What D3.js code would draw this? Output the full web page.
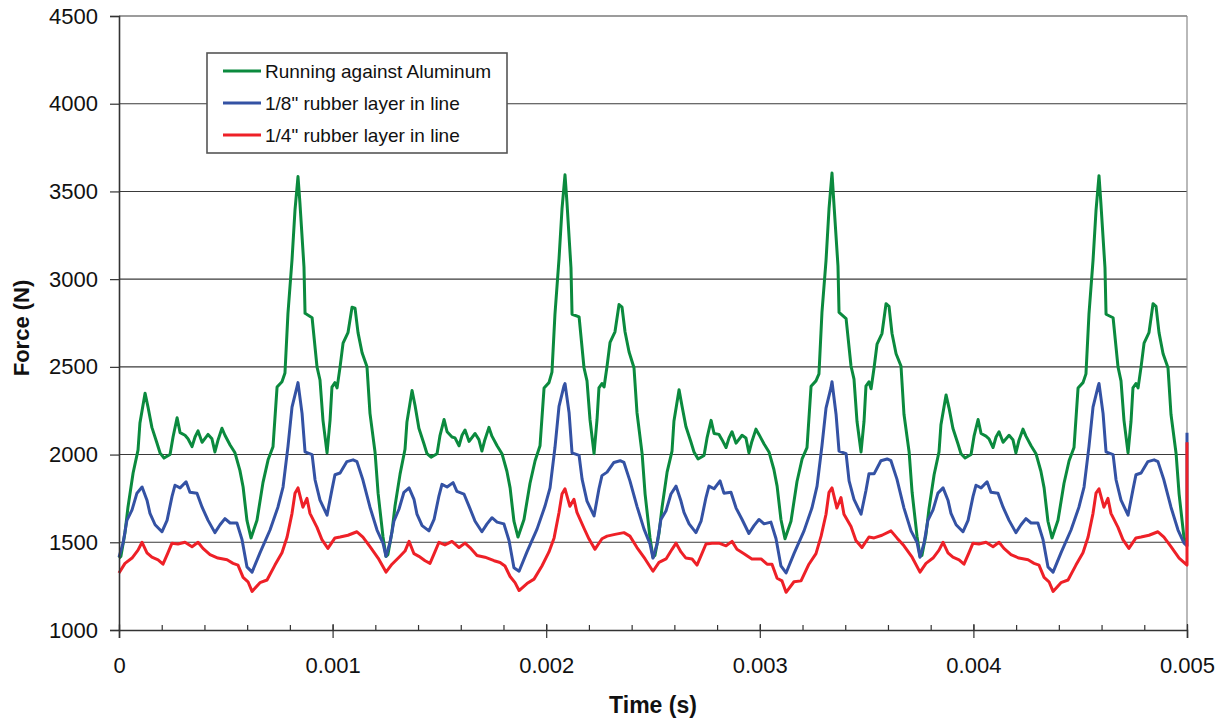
<!DOCTYPE html>
<html>
<head>
<meta charset="utf-8">
<script src="https://cdn.jsdelivr.net/npm/d3@7"></script>
<style>
  body { margin: 0; background: #fff; }
  svg { font-family: Arial, "Liberation Sans", sans-serif; }
</style>
</head>
<body>
<script>
// four repeating cycles, times inside a cycle are in ms from the cycle start
const cycleStarts = [0, 0.00125, 0.0025, 0.00375];
const seriesNames = ["Running against Aluminum", "1/8\" rubber layer in line", "1/4\" rubber layer in line"];
const seriesColors = ["#0b8a3e", "#3452a4", "#ee2027"];

const alumTime = [0, 0.009, 0.028, 0.042, 0.066, 0.089, 0.098, 0.122, 0.136, 0.154, 0.178, 0.192, 0.211, 0.239, 0.253, 0.272, 0.286, 0.309, 0.323, 0.342, 0.356, 0.370, 0.389, 0.417, 0.435, 0.449, 0.463, 0.482, 0.496, 0.520, 0.543, 0.566, 0.581, 0.599, 0.618, 0.646, 0.674, 0.698, 0.721, 0.740, 0.763, 0.777, 0.791, 0.810, 0.824, 0.838, 0.847, 0.866, 0.871, 0.904, 0.927, 0.941, 0.955, 0.974, 0.988, 0.997, 1.011, 1.021, 1.035, 1.049, 1.072, 1.091, 1.105, 1.119, 1.138, 1.161, 1.175, 1.199, 1.213, 1.236];
const alumForce = [
  [1410, 1420, 1555, 1700, 1895, 2025, 2180, 2350, 2270, 2155, 2065, 2010, 1980, 2000, 2100, 2210, 2125, 2110, 2090, 2045, 2100, 2135, 2070, 2115, 2090, 2015, 2080, 2150, 2110, 2055, 2010, 1910, 1815, 1625, 1525, 1625, 1840, 1970, 2045, 2385, 2415, 2465, 2805, 3110, 3395, 3585, 3435, 3070, 2805, 2780, 2500, 2425, 2195, 2010, 2195, 2385, 2410, 2380, 2500, 2635, 2695, 2840, 2835, 2695, 2580, 2500, 2235, 2010, 1780, 1530],
  [1420, 1430, 1560, 1705, 1890, 2030, 2185, 2365, 2280, 2150, 2060, 2005, 1985, 2005, 2110, 2200, 2130, 2100, 2095, 2050, 2110, 2140, 2075, 2120, 2085, 2020, 2085, 2155, 2105, 2050, 2005, 1905, 1810, 1620, 1530, 1630, 1835, 1965, 2050, 2380, 2410, 2470, 2800, 3115, 3400, 3595, 3440, 3065, 2800, 2785, 2495, 2420, 2200, 2005, 2200, 2380, 2405, 2385, 2505, 2640, 2700, 2855, 2840, 2700, 2585, 2495, 2240, 2005, 1775, 1525],
  [1415, 1425, 1550, 1695, 1900, 2020, 2190, 2370, 2275, 2160, 2070, 2015, 1975, 1995, 2095, 2195, 2120, 2115, 2085, 2040, 2095, 2130, 2065, 2110, 2095, 2010, 2075, 2145, 2115, 2060, 2015, 1915, 1820, 1630, 1520, 1620, 1845, 1975, 2040, 2390, 2420, 2460, 2810, 3105, 3400, 3605, 3430, 3075, 2810, 2775, 2505, 2430, 2190, 2015, 2190, 2390, 2415, 2375, 2495, 2630, 2690, 2860, 2845, 2690, 2575, 2505, 2230, 2015, 1785, 1535],
  [1420, 1425, 1545, 1690, 1885, 2015, 2170, 2340, 2265, 2150, 2060, 2005, 1980, 2000, 2105, 2200, 2120, 2105, 2090, 2040, 2100, 2130, 2070, 2110, 2085, 2010, 2080, 2145, 2105, 2050, 2005, 1905, 1810, 1620, 1525, 1625, 1835, 1965, 2040, 2380, 2410, 2460, 2800, 3105, 3390, 3590, 3430, 3065, 2800, 2780, 2500, 2420, 2195, 2010, 2190, 2380, 2405, 2380, 2500, 2635, 2695, 2860, 2845, 2695, 2575, 2495, 2230, 2005, 1775, 1525]
];
const alumTail = [1500];

const rubber8Time = [0, 0.019, 0.037, 0.061, 0.084, 0.108, 0.131, 0.145, 0.169, 0.201, 0.225, 0.248, 0.262, 0.286, 0.314, 0.332, 0.365, 0.389, 0.417, 0.449, 0.473, 0.496, 0.520, 0.552, 0.576, 0.599, 0.623, 0.660, 0.707, 0.744, 0.768, 0.791, 0.810, 0.833, 0.838, 0.857, 0.871, 0.904, 0.918, 0.941, 0.974, 0.997, 1.011, 1.035, 1.067, 1.096, 1.114, 1.142, 1.175, 1.208, 1.236];
const rubber8Force = [
  [1415, 1495, 1625, 1685, 1780, 1815, 1740, 1665, 1600, 1560, 1625, 1760, 1825, 1810, 1845, 1785, 1780, 1700, 1625, 1555, 1600, 1635, 1610, 1610, 1515, 1360, 1330, 1440, 1570, 1700, 1815, 2045, 2270, 2385, 2410, 2235, 2015, 2000, 1855, 1740, 1655, 1800, 1885, 1895, 1960, 1970, 1960, 1855, 1700, 1570, 1495],
  [1420, 1500, 1620, 1690, 1785, 1810, 1745, 1660, 1595, 1565, 1630, 1765, 1830, 1815, 1840, 1790, 1775, 1705, 1620, 1560, 1605, 1640, 1615, 1605, 1510, 1355, 1335, 1445, 1575, 1705, 1810, 2040, 2275, 2390, 2405, 2240, 2010, 1995, 1860, 1735, 1650, 1805, 1880, 1900, 1955, 1965, 1955, 1850, 1705, 1575, 1490],
  [1410, 1490, 1630, 1680, 1775, 1820, 1735, 1670, 1605, 1555, 1620, 1755, 1820, 1805, 1850, 1780, 1785, 1695, 1630, 1550, 1595, 1630, 1605, 1615, 1520, 1365, 1325, 1435, 1565, 1695, 1820, 2050, 2265, 2380, 2415, 2230, 2020, 2005, 1850, 1745, 1660, 1795, 1890, 1890, 1965, 1975, 1965, 1860, 1695, 1565, 1500],
  [1415, 1495, 1625, 1685, 1780, 1810, 1740, 1665, 1600, 1560, 1625, 1760, 1825, 1810, 1845, 1785, 1780, 1700, 1625, 1555, 1600, 1635, 1610, 1610, 1515, 1360, 1330, 1440, 1570, 1700, 1815, 2045, 2270, 2385, 2405, 2235, 2015, 2000, 1855, 1740, 1655, 1800, 1885, 1895, 1960, 1970, 1960, 1855, 1700, 1570, 1495]
];
const rubber8Tail = [1480, 2125];

const rubber4Time = [0, 0.028, 0.061, 0.089, 0.108, 0.131, 0.154, 0.183, 0.206, 0.229, 0.248, 0.276, 0.309, 0.342, 0.370, 0.393, 0.426, 0.463, 0.506, 0.534, 0.557, 0.581, 0.604, 0.623, 0.660, 0.693, 0.730, 0.763, 0.787, 0.810, 0.824, 0.838, 0.861, 0.880, 0.894, 0.927, 0.950, 0.978, 1.011, 1.035, 1.072, 1.114, 1.142, 1.175, 1.213];
const rubber4Force = [
  [1325, 1380, 1410, 1455, 1500, 1440, 1415, 1400, 1375, 1440, 1495, 1490, 1500, 1475, 1500, 1465, 1430, 1410, 1400, 1380, 1370, 1300, 1275, 1220, 1270, 1285, 1370, 1440, 1530, 1665, 1780, 1810, 1700, 1750, 1665, 1585, 1515, 1465, 1525, 1530, 1540, 1560, 1530, 1475, 1410],
  [1330, 1375, 1415, 1450, 1505, 1435, 1420, 1395, 1380, 1445, 1500, 1485, 1505, 1470, 1495, 1470, 1425, 1415, 1395, 1385, 1365, 1305, 1270, 1225, 1265, 1290, 1365, 1445, 1525, 1670, 1775, 1805, 1705, 1745, 1670, 1580, 1520, 1460, 1520, 1535, 1545, 1555, 1535, 1470, 1405],
  [1335, 1385, 1405, 1460, 1495, 1445, 1410, 1405, 1370, 1435, 1490, 1495, 1495, 1480, 1505, 1460, 1435, 1405, 1405, 1375, 1375, 1295, 1280, 1215, 1275, 1280, 1375, 1435, 1535, 1660, 1785, 1810, 1695, 1755, 1660, 1590, 1510, 1470, 1530, 1525, 1540, 1565, 1525, 1480, 1415],
  [1330, 1380, 1410, 1455, 1500, 1440, 1415, 1400, 1375, 1440, 1495, 1490, 1500, 1475, 1500, 1465, 1430, 1410, 1400, 1380, 1370, 1300, 1275, 1220, 1270, 1285, 1370, 1440, 1530, 1665, 1780, 1805, 1700, 1750, 1665, 1585, 1515, 1465, 1525, 1530, 1540, 1560, 1530, 1475, 1410]
];
const rubber4Tail = [1370, 2070];

const yTicks = [1000, 1500, 2000, 2500, 3000, 3500, 4000, 4500];
const xTicks = [0, 0.001, 0.002, 0.003, 0.004, 0.005];
const xMinorTicks = d3.range(0, 0.00501, 0.0002);

function buildSeries(times, forces, tail) {
    const pts = [];
    forces.forEach((row, k) => {
        row.forEach((f, i) => pts.push({t: cycleStarts[k] + times[i] / 1000, f: f}));
    });
    tail.forEach(f => pts.push({t: 0.005, f: f}));
    return pts;
}

const series = [
    buildSeries(alumTime, alumForce, alumTail),
    buildSeries(rubber8Time, rubber8Force, rubber8Tail),
    buildSeries(rubber4Time, rubber4Force, rubber4Tail)
];

const W = 1226, H = 719;
const margin = {top: 16, right: 39, bottom: 89, left: 119};
const width = W - margin.left - margin.right, height = H - margin.top - margin.bottom;

const svg = d3.select('body').append('svg')
    .attr('width', W)
    .attr('height', H);

const g = svg.append('g')
    .attr('transform', `translate(${margin.left}, ${margin.top})`);

const x = d3.scaleLinear().domain([0, 0.005]).range([0, width]);
const y = d3.scaleLinear().domain([1000, 4500]).range([height, 0]);

// gridlines
g.append('g')
    .selectAll('line')
    .data(yTicks.slice(1))
    .enter()
    .append('line')
    .attr('x1', 0)
    .attr('x2', width)
    .attr('y1', d => y(d))
    .attr('y2', d => y(d))
    .attr('stroke', '#3a3a3a')
    .attr('stroke-width', 1.1);

// right border
g.append('line')
    .attr('x1', width).attr('x2', width)
    .attr('y1', 0).attr('y2', height)
    .attr('stroke', '#8a8a8a')
    .attr('stroke-width', 1.2);

// lines
const line = d3.line().x(d => x(d.t)).y(d => y(d.f));
g.selectAll('path.series')
    .data(series)
    .enter()
    .append('path')
    .attr('class', 'series')
    .attr('d', line)
    .attr('fill', 'none')
    .attr('stroke', (d, i) => seriesColors[i])
    .attr('stroke-width', 3)
    .attr('stroke-linejoin', 'round');

// y axis
const yAxis = g.append('g')
    .call(d3.axisLeft(y).tickValues(yTicks).tickSize(9).tickPadding(12).tickFormat(d3.format('d')));
yAxis.select('.domain').attr('stroke', '#333').attr('stroke-width', 1.6);
yAxis.selectAll('.tick line').attr('stroke', '#333').attr('stroke-width', 1.2);
yAxis.selectAll('.tick text').attr('font-size', 22).attr('fill', '#111').attr('font-family', 'Arial, "Liberation Sans", sans-serif');

// x axis, minor ticks inside
g.append('g')
    .attr('transform', `translate(0, ${height})`)
    .call(d3.axisBottom(x).tickValues(xMinorTicks).tickSize(-5).tickFormat(''))
    .call(s => s.select('.domain').remove())
    .selectAll('.tick line').attr('stroke', '#333').attr('stroke-width', 1.2);

const xAxis = g.append('g')
    .attr('transform', `translate(0, ${height})`)
    .call(d3.axisBottom(x).tickValues(xTicks).tickSize(8).tickPadding(19)
        .tickFormat(d => d === 0 ? '0' : d3.format('.3f')(d)));
xAxis.select('.domain').attr('stroke', '#333').attr('stroke-width', 1.6);
xAxis.selectAll('.tick line').attr('y1', -6).attr('stroke', '#333').attr('stroke-width', 1.2);
xAxis.selectAll('.tick text').attr('font-size', 22).attr('fill', '#111').attr('font-family', 'Arial, "Liberation Sans", sans-serif');

// axis titles
svg.append('text')
    .attr('transform', 'translate(29, 328) rotate(-90)')
    .attr('text-anchor', 'middle')
    .attr('font-size', 22)
    .attr('font-weight', 'bold')
    .attr('fill', '#111')
    .text('Force (N)');

svg.append('text')
    .attr('x', 653)
    .attr('y', 713)
    .attr('text-anchor', 'middle')
    .attr('font-size', 23)
    .attr('font-weight', 'bold')
    .attr('fill', '#111')
    .text('Time (s)');

// legend
const legend = svg.append('g').attr('transform', 'translate(207, 53)');
legend.append('rect')
    .attr('width', 300)
    .attr('height', 100)
    .attr('fill', '#fff')
    .attr('stroke', '#555')
    .attr('stroke-width', 1.6);

const items = legend.selectAll('g.item')
    .data(seriesNames)
    .enter()
    .append('g')
    .attr('class', 'item')
    .attr('transform', (d, i) => `translate(0, ${18 + i * 32})`);

items.append('line')
    .attr('x1', 16).attr('x2', 54)
    .attr('stroke', (d, i) => seriesColors[i])
    .attr('stroke-width', 3);

items.append('text')
    .attr('x', 58)
    .attr('dy', '0.35em')
    .attr('font-size', 19)
    .attr('fill', '#111')
    .text(d => d);
</script>
</body>
</html>
